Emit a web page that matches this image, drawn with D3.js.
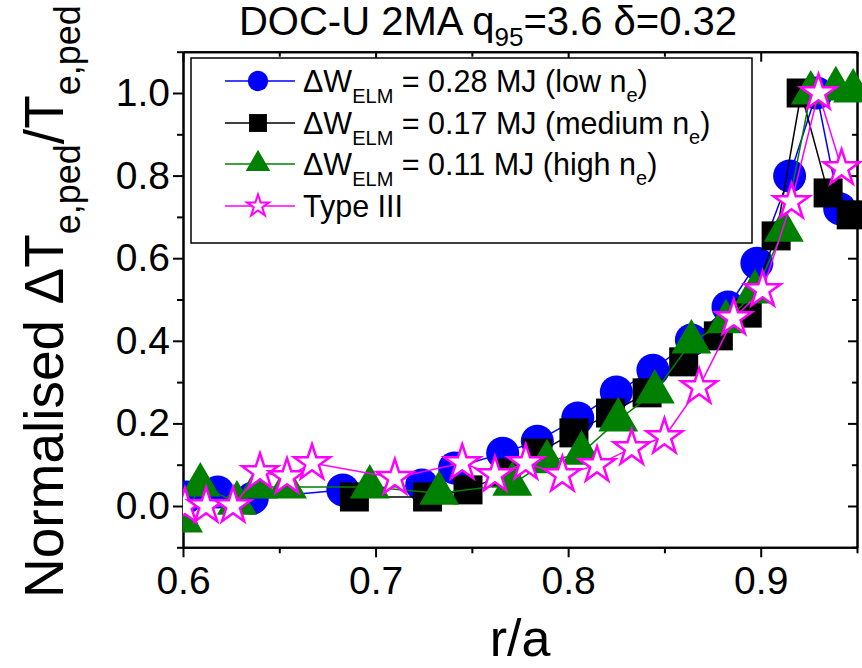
<!DOCTYPE html>
<html>
<head>
<meta charset="utf-8">
<script src="https://cdnjs.cloudflare.com/ajax/libs/d3/7.8.5/d3.min.js"></script>
<style>
  body { margin: 0; background: #fff; }
  svg { font-family: "Liberation Sans", Arial, sans-serif; }
  .axis path, .axis line { stroke: #000; stroke-width: 2; }
  .axis text { font-size: 39px; fill: #000; }
</style>
</head>
<body>
<div id="container"></div>
<script>
// Datos (r/a y Delta Te normalizado)
const rLow = [0.602, 0.618, 0.636, 0.683, 0.724, 0.741, 0.766, 0.784, 0.805, 0.825,
              0.844, 0.864, 0.883, 0.898, 0.915, 0.929, 0.941];
const tLow = [0.022, 0.034, 0.019, 0.039, 0.051, 0.092, 0.128, 0.157, 0.213, 0.276,
              0.329, 0.402, 0.482, 0.588, 0.799, 1.0, 0.72];

const rMed = [0.689, 0.727, 0.748, 0.768, 0.784, 0.803, 0.822, 0.841, 0.860, 0.878,
              0.893, 0.908, 0.921, 0.935, 0.947];
const tMed = [0.022, 0.022, 0.039, 0.080, 0.128, 0.177, 0.225, 0.274, 0.349, 0.412,
              0.467, 0.654, 1.0, 0.758, 0.705];

const rHigh = [0.600, 0.609, 0.628, 0.639, 0.654, 0.697, 0.733, 0.771, 0.789, 0.807,
               0.826, 0.845, 0.864, 0.882, 0.897, 0.912, 0.926, 0.939, 0.948];
const tHigh = [-0.036, 0.051, 0.007, 0.046, 0.046, 0.046, 0.031, 0.053, 0.107, 0.128,
               0.208, 0.276, 0.397, 0.446, 0.518, 0.668, 1.0, 1.01, 1.005];

const rType3 = [0.601, 0.612, 0.626, 0.640, 0.654, 0.667, 0.710, 0.745, 0.762, 0.778,
                0.797, 0.815, 0.833, 0.850, 0.868, 0.886, 0.901, 0.916, 0.930, 0.942];
const tType3 = [-0.002, 0.0, 0.0, 0.082, 0.070, 0.104, 0.068, 0.104, 0.075, 0.104,
                0.075, 0.099, 0.140, 0.167, 0.288, 0.455, 0.523, 0.736, 1.0, 0.818];

const xTicks = [0.6, 0.7, 0.8, 0.9];
const xMinor = [0.65, 0.75, 0.85, 0.95];
const yTicks = [0.0, 0.2, 0.4, 0.6, 0.8, 1.0];
const yMinor = [-0.1, 0.1, 0.3, 0.5, 0.7, 0.9, 1.1];

const WIDTH = 862,
      HEIGHT = 668;

const margin = { top: 51.7, bottom: 120.7, left: 183, right: 5 };

const width = WIDTH - margin.left - margin.right,
      height = HEIGHT - margin.top - margin.bottom;

const svg = d3.select('#container')
    .append('svg')
    .attr('width', WIDTH)
    .attr('height', HEIGHT);

const xScale = d3.scaleLinear().domain([0.6, 0.95]).range([margin.left, margin.left + width]);
const yScale = d3.scaleLinear().domain([-0.1, 1.1]).range([margin.top + height, margin.top]);

const x0 = xScale.range()[0], x1 = xScale.range()[1];
const y0 = yScale.range()[0], y1 = yScale.range()[1];

// Ejes: izquierdo y abajo hacia afuera, arriba y derecha hacia adentro
const fmt = d3.format('.1f');
svg.append('g').attr('class', 'axis')
    .attr('transform', `translate(0, ${y0})`)
    .call(d3.axisBottom(xScale).tickValues(xTicks).tickFormat(fmt).tickSize(10).tickSizeOuter(0).tickPadding(9));
svg.append('g').attr('class', 'axis')
    .attr('transform', `translate(0, ${y0})`)
    .call(d3.axisBottom(xScale).tickValues(xMinor).tickFormat('').tickSize(6).tickSizeOuter(0));
svg.append('g').attr('class', 'axis')
    .attr('transform', `translate(${x0}, 0)`)
    .call(d3.axisLeft(yScale).tickValues(yTicks).tickFormat(fmt).tickSize(10).tickSizeOuter(0).tickPadding(3));
svg.append('g').attr('class', 'axis')
    .attr('transform', `translate(${x0}, 0)`)
    .call(d3.axisLeft(yScale).tickValues(yMinor).tickFormat('').tickSize(6).tickSizeOuter(0));
svg.append('g').attr('class', 'axis')
    .attr('transform', `translate(0, ${y1})`)
    .call(d3.axisBottom(xScale).tickValues(xTicks).tickFormat('').tickSize(10).tickSizeOuter(0));
svg.append('g').attr('class', 'axis')
    .attr('transform', `translate(0, ${y1})`)
    .call(d3.axisBottom(xScale).tickValues(xMinor).tickFormat('').tickSize(5).tickSizeOuter(0));
svg.append('g').attr('class', 'axis')
    .attr('transform', `translate(${x1}, 0)`)
    .call(d3.axisLeft(yScale).tickValues(yTicks).tickFormat('').tickSize(9).tickSizeOuter(0));
svg.append('g').attr('class', 'axis')
    .attr('transform', `translate(${x1}, 0)`)
    .call(d3.axisLeft(yScale).tickValues(yMinor).tickFormat('').tickSize(5).tickSizeOuter(0));

svg.append('defs').append('clipPath').attr('id', 'clip')
    .append('rect')
    .attr('x', x0).attr('y', 0)
    .attr('width', WIDTH - x0).attr('height', y0);

const series = [
    { r: rLow, t: tLow, color: 'blue', fill: 'blue', symbol: d3.symbolCircle, size: 855, sw: 0 },
    { r: rMed, t: tMed, color: 'black', fill: 'black', symbol: d3.symbolSquare, size: 841, sw: 0 },
    { r: rHigh, t: tHigh, color: 'green', fill: 'green', symbol: d3.symbolTriangle, size: 690, sw: 0 },
    { r: rType3, t: tType3, color: 'magenta', fill: 'white', symbol: d3.symbolStar, size: 400, sw: 2.5 }
];

const plot = svg.append('g').attr('clip-path', 'url(#clip)');

const line = d3.line()
    .x((d) => xScale(d[0]))
    .y((d) => yScale(d[1]));

series.forEach((s) => {
    const pts = s.r.map((r, i) => [r, s.t[i]]);
    const g = plot.append('g');
    g.append('path')
        .datum(pts)
        .attr('d', line)
        .attr('fill', 'none')
        .attr('stroke', s.color)
        .attr('stroke-width', 1.5);
    g.selectAll('path.mark')
        .data(pts)
        .join('path')
        .attr('class', 'mark')
        .attr('transform', (d) => `translate(${xScale(d[0])}, ${yScale(d[1])})`)
        .attr('d', d3.symbol().type(s.symbol).size(s.size))
        .attr('fill', s.fill)
        .attr('stroke', s.sw ? s.color : 'none')
        .attr('stroke-width', s.sw);
});

// Leyenda
const legend = svg.append('g');
legend.append('rect')
    .attr('x', 191).attr('y', 58)
    .attr('width', 561).attr('height', 185)
    .attr('fill', 'white').attr('stroke', 'black').attr('stroke-width', 1.5);

const legendRows = [
    { label: ['= 0.28 MJ (low n', 'e', ')'], dw: true },
    { label: ['= 0.17 MJ (medium n', 'e', ')'], dw: true },
    { label: ['= 0.11 MJ (high n', 'e', ')'], dw: true },
    { label: ['Type III'], dw: false }
];
const rowY = [81, 123, 164, 206];

legendRows.forEach((row, i) => {
    const s = series[i];
    const y = rowY[i];
    legend.append('line')
        .attr('x1', 225).attr('x2', 295).attr('y1', y).attr('y2', y)
        .attr('stroke', s.color).attr('stroke-width', 1.5);
    legend.append('path')
        .attr('transform', `translate(258, ${y})`)
        .attr('d', d3.symbol().type(s.symbol).size(s.size * 0.38))
        .attr('fill', s.fill)
        .attr('stroke', s.sw ? s.color : 'none')
        .attr('stroke-width', s.sw ? 2 : 0);
    const t = legend.append('text')
        .attr('x', 303).attr('y', y + 11)
        .attr('font-size', 30.5);
    if (row.dw) {
        t.append('tspan').text('\u0394W');
        t.append('tspan').attr('font-size', 20).attr('dy', 11).text('ELM');
        t.append('tspan').attr('dy', -11).text('\u00a0' + row.label[0]);
        t.append('tspan').attr('font-size', 20).attr('dy', 10).text(row.label[1]);
        t.append('tspan').attr('dy', -10).text(row.label[2]);
    } else {
        t.append('tspan').text(row.label[0]);
    }
});

// Titulo
const title = svg.append('text')
    .attr('x', 488).attr('y', 35)
    .attr('text-anchor', 'middle')
    .attr('font-size', 40);
title.append('tspan').text('DOC-U 2MA q');
title.append('tspan').attr('font-size', 26).attr('dy', 11).text('95');
title.append('tspan').attr('dy', -11).text('=3.6 \u03b4=0.32');

// Etiquetas de ejes
svg.append('text')
    .attr('x', 520).attr('y', 656)
    .attr('text-anchor', 'middle')
    .attr('font-size', 52)
    .text('r/a');

const yLabel = svg.append('text')
    .attr('transform', 'translate(63, 598) rotate(-90)')
    .attr('font-size', 55);
yLabel.append('tspan').text('Normalised \u0394T');
yLabel.append('tspan').attr('font-size', 36).attr('dy', 17).text('e,ped');
yLabel.append('tspan').attr('dy', -17).text('/T');
yLabel.append('tspan').attr('font-size', 36).attr('dy', 17).text('e,ped');
</script>
</body>
</html>
